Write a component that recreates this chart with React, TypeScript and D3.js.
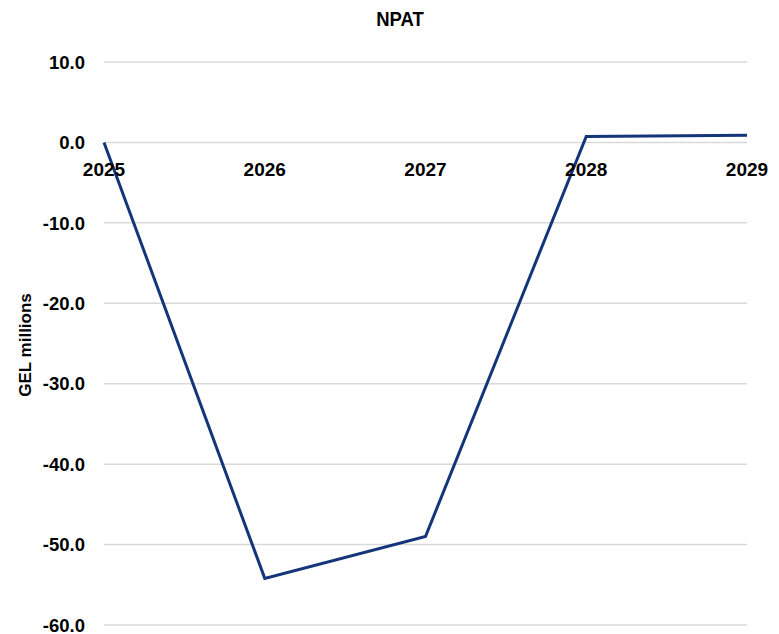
import React from "react";
import * as d3 from "d3";

const years = ["2025", "2026", "2027", "2028", "2029"];
const npat = [0.0, -54.2, -49.0, 0.75, 0.9];
const yTicks = [10, 0, -10, -20, -30, -40, -50, -60];

const W = 779;
const H = 634;
const left = 104;
const right = 747;
const top = 62;
const bottom = 625;
const font = "'Liberation Sans', Arial, sans-serif";

export default function App() {
  const x = d3.scalePoint<string>().domain(years).range([left, right]).padding(0);
  const y = d3.scaleLinear().domain([-60, 10]).range([bottom, top]);
  const line = d3
    .line<number>()
    .x((_, i) => x(years[i]) as number)
    .y((d) => y(d));
  return (
    <svg width={W} height={H} style={{ position: "absolute", left: 0, top: 0 }}>
      <rect width={W} height={H} fill="#fff" />
      <text
        transform="translate(400,26) scale(0.88,1)"
        textAnchor="middle"
        fontFamily={font}
        fontWeight="bold"
        fontSize={21}
        fill="#000"
      >
        NPAT
      </text>
      {yTicks.map((t) => (
        <g key={t}>
          <line x1={left} x2={right} y1={y(t)} y2={y(t)} stroke="#d9d9d9" strokeWidth={1.5} />
          <text x={85} y={y(t)} dy="0.36em" textAnchor="end" fontFamily={font} fontWeight="bold" fontSize={18.5} fill="#000">
            {t.toFixed(1)}
          </text>
        </g>
      ))}
      <text
        transform={`translate(31,${345}) rotate(-90)`}
        textAnchor="middle"
        fontFamily={font}
        fontWeight="bold"
        fontSize={17}
        fill="#000"
      >
        GEL millions
      </text>
      <path d={line(npat) as string} fill="none" stroke="#14357a" strokeWidth={3} strokeLinejoin="miter" />
      {years.map((yr) => (
        <text key={yr} x={x(yr) as number} y={176} textAnchor="middle" fontFamily={font} fontWeight="bold" fontSize={19} fill="#000">
          {yr}
        </text>
      ))}
    </svg>
  );
}
